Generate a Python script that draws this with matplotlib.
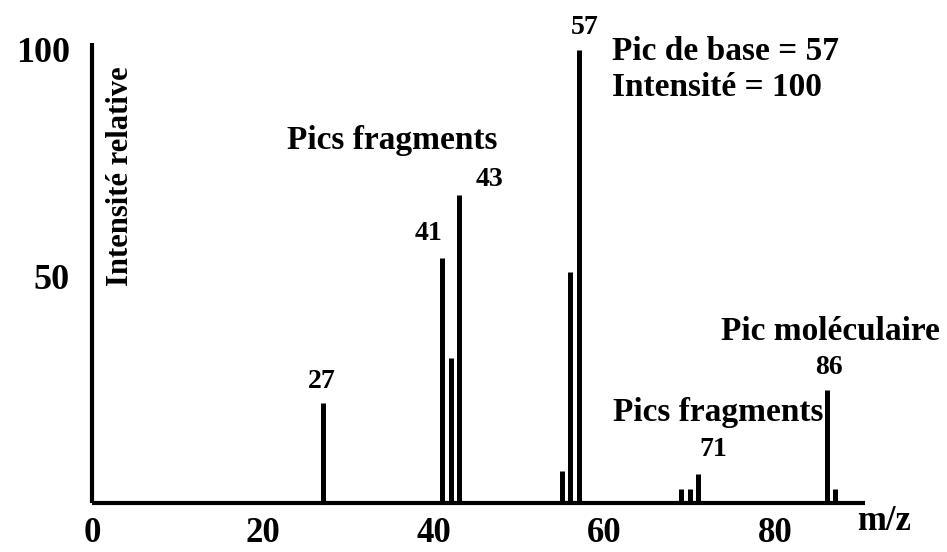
import matplotlib
matplotlib.use("Agg")
import matplotlib.pyplot as plt

# Data (mass spectrum, relative intensity)
mz = [27, 41, 42, 43, 55, 56, 57, 69, 70, 71, 86, 87]
intensity = [22, 54, 32, 68, 7, 51, 100, 3, 3, 6.5, 25, 3]
labelled_peaks = [27, 41, 43, 57, 71, 86]
x_ticks = [0, 20, 40, 60, 80]
y_ticks = [50, 100]

plt.rcParams['font.family'] = ['Liberation Serif', 'DejaVu Serif']

W, H = 947, 552
fig = plt.figure(figsize=(W / 100, H / 100), dpi=100)
ax = fig.add_axes([92 / W, 49 / H, 773 / W, 460 / H])
ax.set_xlim(0, 90.5)
ax.set_ylim(0, 101.5)

ax.vlines(mz, 0, intensity, colors='black', linewidth=3.6)

for s in ['top', 'right']:
    ax.spines[s].set_visible(False)
for s in ['left', 'bottom']:
    ax.spines[s].set_linewidth(3)
    ax.spines[s].set_capstyle('butt')

ax.set_xticks(x_ticks)
ax.set_xticklabels([str(v) for v in x_ticks], fontsize=25, fontweight='bold')
ax.set_yticks(y_ticks)
ax.set_yticklabels([str(v) for v in y_ticks], fontsize=26, fontweight='bold')
ax.tick_params(axis='both', length=0)
ax.tick_params(axis='x', pad=10)
ax.tick_params(axis='y', pad=16)


def ftext(px, py, s, size, ha='center', va='center', rot=0):
    fig.text(px / W, 1 - py / H, s, fontsize=size, fontweight='bold',
             ha=ha, va=va, rotation=rot)


# axis labels
ftext(884, 522, 'm/z', 25)
ftext(121, 176, 'Intensité relative', 22, rot=90)

# peak labels (pixel positions of the reference)
peak_label_px = {27: (322, 382), 41: (428, 233), 43: (489, 180),
                 57: (585, 27), 71: (713, 450), 86: (829, 367)}
for p in labelled_peaks:
    px, py = peak_label_px[p]
    ftext(px, py, str(p), 20)

ftext(612, 52, 'Pic de base = 57', 24, ha='left')
ftext(612, 88, 'Intensité = 100', 24, ha='left')
ftext(392, 140, 'Pics fragments', 24)
ftext(823, 412, 'Pics fragments', 24, ha='right')
ftext(940, 331, 'Pic moléculaire', 24, ha='right')

fig.savefig('out.png', dpi=100, facecolor='white')
